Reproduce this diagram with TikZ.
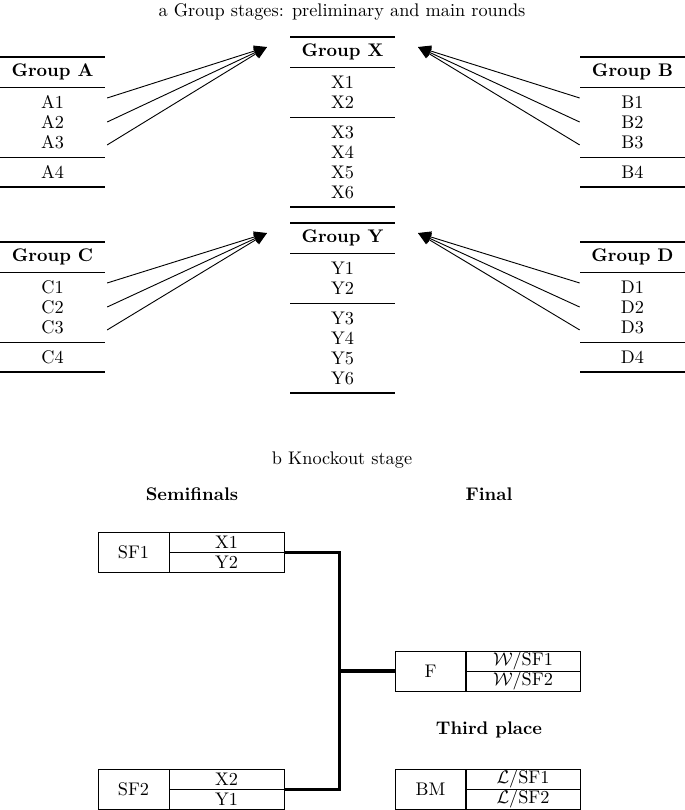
\documentclass[tikz,border=0pt]{standalone}
\usetikzlibrary{arrows.meta,calc}
\def\pxu{0.547}
\tikzset{
  cell/.style={inner sep=0pt, minimum width={105*\pxu pt}},
  hdr/.style={cell, font=\bfseries},
  heavyrule/.style={line width=0.8pt},
  lightrule/.style={line width=0.5pt},
  feed/.style={line width=0.5pt, -{Triangle[length=7pt,width=6pt]}},
  matchbox/.style={draw, line width=0.4pt, inner sep=0pt, minimum width={71*\pxu pt}, minimum height={40*\pxu pt}},
  pairbox/.style={draw, line width=0.4pt, inner sep=0pt, minimum width={115*\pxu pt}, minimum height={20*\pxu pt}},
  bracket/.style={line width=1.9pt},
  title/.style={font=\bfseries},
}
\begin{document}
\begin{tikzpicture}[x=\pxu pt, y=-\pxu pt]
\useasboundingbox (0,0) rectangle (685,810);

\node (capa) at (342,12) {a Group stages: preliminary and main rounds};

% Group A
\draw[heavyrule] (0,57) -- (105,57);
\node[hdr] (gA) at (52.5,72) {Group A};
\draw[lightrule] (0,87) -- (105,87);
\node[cell] (a1) at (52.5,102) {A1};
\node[cell] (a2) at (52.5,122) {A2};
\node[cell] (a3) at (52.5,142) {A3};
\draw[lightrule] (0,157) -- (105,157);
\node[cell] (a4) at (52.5,172) {A4};
\draw[heavyrule] (0,187) -- (105,187);

% Group B
\draw[heavyrule] (580,57) -- (685,57);
\node[hdr] (gB) at (632.5,72) {Group B};
\draw[lightrule] (580,87) -- (685,87);
\node[cell] (b1) at (632.5,102) {B1};
\node[cell] (b2) at (632.5,122) {B2};
\node[cell] (b3) at (632.5,142) {B3};
\draw[lightrule] (580,157) -- (685,157);
\node[cell] (b4) at (632.5,172) {B4};
\draw[heavyrule] (580,187) -- (685,187);

% Group C
\draw[heavyrule] (0,242) -- (105,242);
\node[hdr] (gC) at (52.5,257) {Group C};
\draw[lightrule] (0,272) -- (105,272);
\node[cell] (c1) at (52.5,287) {C1};
\node[cell] (c2) at (52.5,307) {C2};
\node[cell] (c3) at (52.5,327) {C3};
\draw[lightrule] (0,342) -- (105,342);
\node[cell] (c4) at (52.5,357) {C4};
\draw[heavyrule] (0,372) -- (105,372);

% Group D
\draw[heavyrule] (580,242) -- (685,242);
\node[hdr] (gD) at (632.5,257) {Group D};
\draw[lightrule] (580,272) -- (685,272);
\node[cell] (d1) at (632.5,287) {D1};
\node[cell] (d2) at (632.5,307) {D2};
\node[cell] (d3) at (632.5,327) {D3};
\draw[lightrule] (580,342) -- (685,342);
\node[cell] (d4) at (632.5,357) {D4};
\draw[heavyrule] (580,372) -- (685,372);

% Group X
\draw[heavyrule] (290,37) -- (395,37);
\node[hdr] (gX) at (342.5,52) {Group X};
\draw[lightrule] (290,67) -- (395,67);
\node[cell] (x1) at (342.5,82) {X1};
\node[cell] (x2) at (342.5,102) {X2};
\draw[lightrule] (290,117) -- (395,117);
\node[cell] (x3) at (342.5,132) {X3};
\node[cell] (x4) at (342.5,152) {X4};
\node[cell] (x5) at (342.5,172) {X5};
\node[cell] (x6) at (342.5,192) {X6};
\draw[heavyrule] (290,207) -- (395,207);

% Group Y
\draw[heavyrule] (290,223) -- (395,223);
\node[hdr] (gY) at (342.5,238) {Group Y};
\draw[lightrule] (290,253) -- (395,253);
\node[cell] (y1) at (342.5,268) {Y1};
\node[cell] (y2) at (342.5,288) {Y2};
\draw[lightrule] (290,303) -- (395,303);
\node[cell] (y3) at (342.5,318) {Y3};
\node[cell] (y4) at (342.5,338) {Y4};
\node[cell] (y5) at (342.5,358) {Y5};
\node[cell] (y6) at (342.5,378) {Y6};
\draw[heavyrule] (290,393) -- (395,393);

% arrow tips
\coordinate (tXl) at (267,47);
\coordinate (tXr) at (418,47);
\coordinate (tYl) at (267,233);
\coordinate (tYr) at (418,233);

\draw[feed] ([xshift=1pt,yshift=2.2pt]a1.east) -- (tXl);
\draw[feed] ([xshift=1pt]a2.east) -- (tXl);
\draw[feed] ([xshift=1pt,yshift=-1.6pt]a3.east) -- (tXl);
\draw[feed] ([yshift=2.2pt]b1.west) -- (tXr);
\draw[feed] (b2.west) -- (tXr);
\draw[feed] ([yshift=-1.6pt]b3.west) -- (tXr);
\draw[feed] ([xshift=1pt,yshift=2.2pt]c1.east) -- (tYl);
\draw[feed] ([xshift=1pt]c2.east) -- (tYl);
\draw[feed] ([xshift=1pt,yshift=-1.6pt]c3.east) -- (tYl);
\draw[feed] ([yshift=2.2pt]d1.west) -- (tYr);
\draw[feed] (d2.west) -- (tYr);
\draw[feed] ([yshift=-1.6pt]d3.west) -- (tYr);

% Knockout
\node (capb) at (342,460) {b Knockout stage};
\node[title] (tsf) at (192,494) {Semifinals};
\node[title] (tfin) at (489,494) {Final};
\node[title] (tbm) at (489,730) {Third place};

\node[matchbox] (sf1) at (133.5,552) {SF1};
\node[pairbox] (sf1a) at (226.5,542) {X1};
\node[pairbox] (sf1b) at (226.5,562) {Y2};

\node[matchbox] (sf2) at (133.5,789) {SF2};
\node[pairbox] (sf2a) at (226.5,779) {X2};
\node[pairbox] (sf2b) at (226.5,799) {Y1};

\node[matchbox] (fin) at (430.5,671) {F};
\node[pairbox] (fina) at (523,661) {$\mathcal{W}$/SF1};
\node[pairbox] (finb) at (523,681) {$\mathcal{W}$/SF2};

\node[matchbox] (bm) at (430.5,789) {BM};
\node[pairbox] (bma) at (523,779) {$\mathcal{L}$/SF1};
\node[pairbox] (bmb) at (523,799) {$\mathcal{L}$/SF2};

\coordinate (jn) at (339.5,671);
\draw[bracket] (sf1a.south east) -| (jn) |- (sf2a.south east);
\draw[bracket] (jn) -- (fin.west);
\end{tikzpicture}
\end{document}
